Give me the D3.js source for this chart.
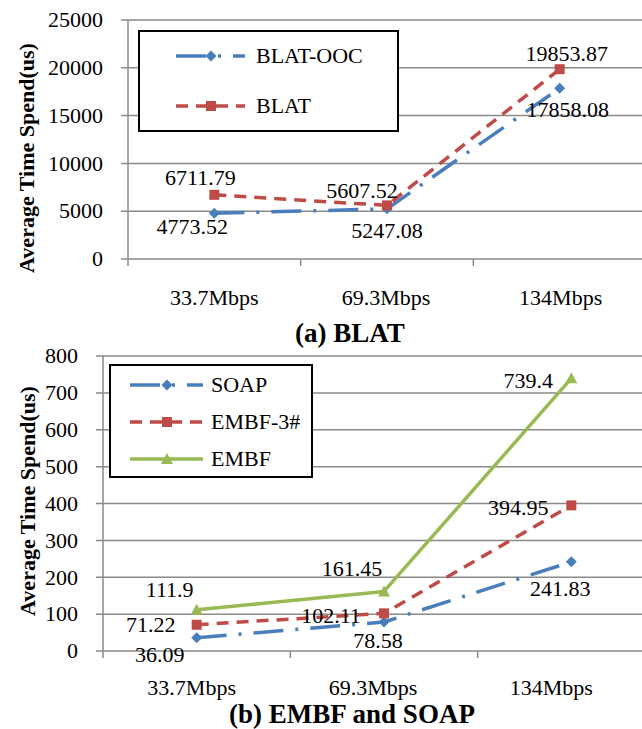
<!DOCTYPE html>
<html><head><meta charset="utf-8">
<script src="https://cdn.jsdelivr.net/npm/d3@7"></script>
<style>
body{margin:0;background:#fff}
svg{display:block}
</style>
</head><body>
<svg id="c" width="642" height="729"></svg>
<script>
// ---------- data ----------
const categories = ["33.7Mbps", "69.3Mbps", "134Mbps"];
const axisTitle = "Average Time Spend(us)";
const panelTitles = ["(a) BLAT", "(b) EMBF and SOAP"];

const blatSeriesNames = ["BLAT-OOC", "BLAT"];
const blatOOC = [4773.52, 5247.08, 17858.08];
const blat = [6711.79, 5607.52, 19853.87];
const blatTicks = [0, 5000, 10000, 15000, 20000, 25000];

const embfSeriesNames = ["SOAP", "EMBF-3#", "EMBF"];
const soap = [36.09, 78.58, 241.83];
const embf3 = [71.22, 102.11, 394.95];
const embf = [111.9, 161.45, 739.4];
const embfTicks = [0, 100, 200, 300, 400, 500, 600, 700, 800];

// ---------- styles / layout ----------
const FONT = "Liberation Serif";
const styles = {
  blue:  {color: "#4a7ebb", dash: "30,12,3,12", marker: "diamond"},
  red:   {color: "#be4b48", dash: "12,8",       marker: "square"},
  green: {color: "#98b954", dash: null,         marker: "triangle"}
};
const gridColor = "#8a8a8a";
const fontSize = 22;

const panels = [
  {
    left: 128, right: 646, top: 20, bottom: 259,
    ticks: blatTicks,
    series: [
      {name: blatSeriesNames[0], values: blatOOC, style: styles.blue,
       labelOff: [[-22, 13], [0, 21], [8, 21]]},
      {name: blatSeriesNames[1], values: blat, style: styles.red,
       labelOff: [[-14, -18], [-25, -15], [7, -16]]}
    ],
    legend: {x0: 139, y0: 31, x1: 398, y1: 131, rows: [56, 106], lineX: [176, 245], markerX: 211, textX: 256},
    xLabelY: 305, xLabelShift: [0, -1, 1],
    titleX: 350, titleY: 342, axisTitleX: 26, axisTitleY: 158,
    title: panelTitles[0]
  },
  {
    left: 103, right: 665, top: 356, bottom: 651,
    ticks: embfTicks,
    series: [
      {name: embfSeriesNames[0], values: soap, style: styles.blue,
       labelOff: [[-37, 17], [-6, 18], [-11, 26]]},
      {name: embfSeriesNames[1], values: embf3, style: styles.red,
       labelOff: [[-46, 0], [-53, 2], [-53, 2]]},
      {name: embfSeriesNames[2], values: embf, style: styles.green,
       labelOff: [[-27, -20], [-32, -23], [-43, 2]]}
    ],
    legend: {x0: 110, y0: 365, x1: 312, y1: 477, rows: [385, 422, 459], lineX: [130, 203], markerX: 167, textX: 211},
    xLabelY: 695, xLabelShift: [-5, -11, -20],
    titleX: 352, titleY: 723, axisTitleX: 27, axisTitleY: 501,
    title: panelTitles[1]
  }
];

const svg = d3.select("#c");

function markerPath(type) {
  if (type === "diamond") return "M0,-5.5L5.5,0L0,5.5L-5.5,0Z";
  if (type === "square") return "M-5,-5H5V5H-5Z";
  return "M0,-6L6,5H-6Z";
}

function txt(sel) {
  return sel.attr("font-family", FONT).attr("fill", "#000");
}

panels.forEach(p => {
  const g = svg.append("g");
  const x = d3.scaleBand().domain(categories).range([p.left, p.right]).padding(0);
  const y = d3.scaleLinear().domain([p.ticks[0], p.ticks[p.ticks.length - 1]]).range([p.bottom, p.top]);
  const cx = c => x(c) + x.bandwidth() / 2;

  // gridlines + y axis labels
  g.append("g").selectAll("line").data(p.ticks).join("line")
    .attr("x1", p.left - 7).attr("x2", 642)
    .attr("y1", d => y(d)).attr("y2", d => y(d))
    .attr("stroke", gridColor).attr("stroke-width", 1.5);
  txt(g.append("g").selectAll("text").data(p.ticks).join("text"))
    .attr("x", p.left - 25).attr("y", d => y(d)).attr("dy", "0.33em")
    .attr("text-anchor", "end").attr("font-size", fontSize).text(d => d);

  // y axis line
  g.append("line").attr("x1", p.left).attr("x2", p.left)
    .attr("y1", p.top).attr("y2", p.bottom + 7)
    .attr("stroke", gridColor).attr("stroke-width", 1.5);
  // x ticks at band boundaries
  g.append("g").selectAll("line").data(categories.slice(1)).join("line")
    .attr("x1", d => x(d)).attr("x2", d => x(d))
    .attr("y1", p.bottom).attr("y2", p.bottom + 7)
    .attr("stroke", gridColor).attr("stroke-width", 1.5);
  // x labels
  txt(g.append("g").selectAll("text").data(categories).join("text"))
    .attr("x", (d, i) => cx(d) + p.xLabelShift[i]).attr("y", p.xLabelY)
    .attr("text-anchor", "middle").attr("font-size", fontSize).text(d => d);

  // axis title
  txt(g.append("text"))
    .attr("transform", `translate(${p.axisTitleX},${p.axisTitleY}) rotate(-90)`)
    .attr("dy", "0.35em").attr("text-anchor", "middle")
    .attr("font-size", fontSize).attr("font-weight", "bold").text(axisTitle);

  // panel title
  txt(g.append("text")).attr("x", p.titleX).attr("y", p.titleY)
    .attr("text-anchor", "middle").attr("font-size", 27).attr("font-weight", "bold")
    .text(p.title);

  // lines
  const line = d3.line().x((d, i) => cx(categories[i])).y(d => y(d));
  p.series.forEach(s => {
    g.append("path").attr("d", line(s.values))
      .attr("fill", "none").attr("stroke", s.style.color).attr("stroke-width", 3.5)
      .attr("stroke-dasharray", s.style.dash).attr("stroke-linejoin", "round");
    g.append("g").selectAll("path").data(s.values).join("path")
      .attr("d", markerPath(s.style.marker))
      .attr("transform", (d, i) => `translate(${cx(categories[i])},${y(d)})`)
      .attr("fill", s.style.color);
  });
  // data labels
  p.series.forEach(s => {
    txt(g.append("g").selectAll("text").data(s.values).join("text"))
      .attr("x", (d, i) => cx(categories[i]) + s.labelOff[i][0])
      .attr("y", (d, i) => y(d) + s.labelOff[i][1])
      .attr("dy", "0.35em").attr("text-anchor", "middle")
      .attr("font-size", fontSize).text(d => String(d));
  });

  // legend
  const L = p.legend;
  const lg = g.append("g");
  lg.append("rect").attr("x", L.x0).attr("y", L.y0)
    .attr("width", L.x1 - L.x0).attr("height", L.y1 - L.y0)
    .attr("fill", "#fff").attr("stroke", "#000").attr("stroke-width", 2);
  p.series.forEach((s, i) => {
    const ry = L.rows[i];
    lg.append("line").attr("x1", L.lineX[0]).attr("x2", L.lineX[1])
      .attr("y1", ry).attr("y2", ry)
      .attr("stroke", s.style.color).attr("stroke-width", 3.5)
      .attr("stroke-dasharray", s.style.dash);
    lg.append("path").attr("d", markerPath(s.style.marker))
      .attr("transform", `translate(${L.markerX},${ry})`).attr("fill", s.style.color);
    txt(lg.append("text")).attr("x", L.textX).attr("y", ry).attr("dy", "0.33em")
      .attr("font-size", fontSize).text(s.name);
  });
});
</script>
</body></html>
